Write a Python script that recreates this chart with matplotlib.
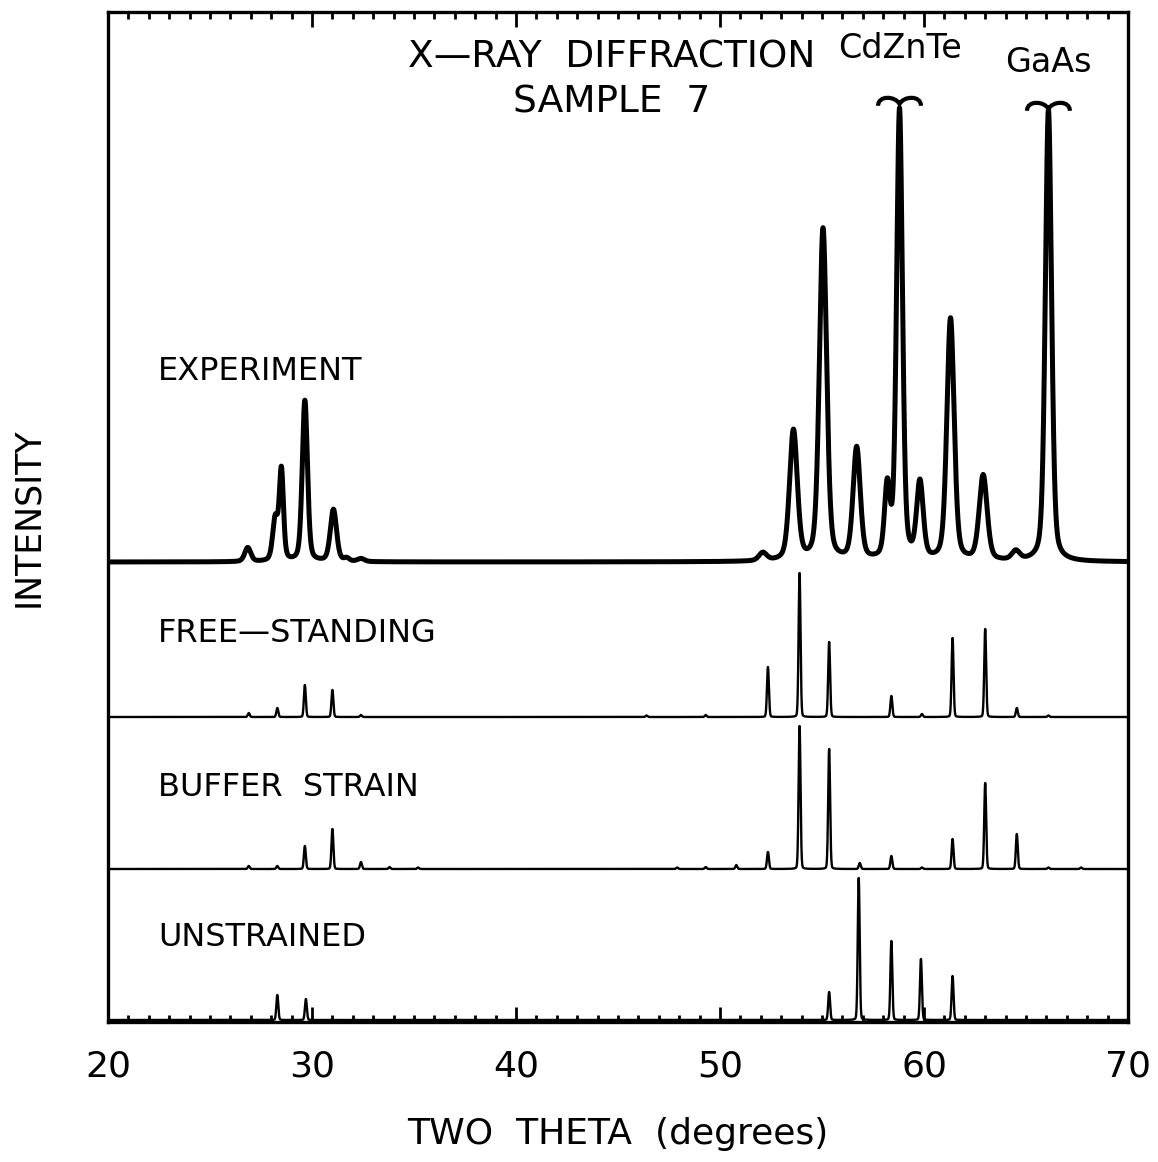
import numpy as np
import matplotlib
matplotlib.use('Agg')
import matplotlib.pyplot as plt
from matplotlib.path import Path
from matplotlib.patches import PathPatch

# Peak tables: position (deg), height (px above baseline)
exp_pos = [26.85, 28.2, 28.5, 29.65, 31.05, 31.7, 32.4, 52.1, 53.6, 55.05, 56.7,
           58.2, 58.8, 59.8, 61.3, 62.9, 64.5, 66.1]
exp_hgt = [14, 42, 90, 161, 52, 3, 3, 8, 130, 332, 112, 70, 450, 76, 242, 85, 9, 452]
exp_fwhm = [0.35, 0.3, 0.24, 0.3, 0.36, 0.3, 0.4, 0.45, 0.45, 0.42, 0.42,
            0.32, 0.34, 0.38, 0.42, 0.46, 0.45, 0.36]

free_pos = [26.9, 28.3, 29.65, 31.0, 32.4, 46.4, 49.3, 52.35, 53.9, 55.35, 58.4,
            59.9, 61.4, 63.0, 64.55, 66.1]
free_hgt = [4, 9, 32, 27, 2, 1.5, 2, 50, 144, 75, 21, 3, 79, 88, 9, 1.5]

buffer_pos = [26.9, 28.3, 29.65, 31.0, 32.4, 33.8, 35.2, 47.9, 49.3, 50.8, 52.35,
              53.9, 55.35, 56.85, 58.4, 59.9, 61.4, 63.0, 64.55, 66.1, 67.7]
buffer_hgt = [3, 3, 23, 40, 7, 2, 1.5, 1.5, 2, 4, 17, 143, 120, 6, 13, 1.5, 30,
              86, 35, 1.5, 1.5]

unstr_pos = [28.3, 29.7, 55.35, 56.8, 58.4, 59.85, 61.4]
unstr_hgt = [25, 21, 28, 142, 79, 61, 44]

offsets = {'EXPERIMENT': 460, 'FREE\u2014STANDING': 305,
           'BUFFER  STRAIN': 153, 'UNSTRAINED': 2}

two_theta = np.linspace(20, 70, 10001)


def pattern(pos, hgt, fwhm, eta=0.3):
    y = np.zeros_like(two_theta)
    for p, h, w in zip(pos, hgt, np.broadcast_to(fwhm, len(pos))):
        g = np.exp(-4 * np.log(2) * ((two_theta - p) / w) ** 2)
        l = 1 / (1 + 4 * ((two_theta - p) / w) ** 2)
        y += h * ((1 - eta) * g + eta * l)
    return y


fig = plt.figure(figsize=(11.58, 11.62), dpi=100)
ax = fig.add_axes([108 / 1158, 1 - 1022 / 1162, 1020 / 1158, 1010 / 1162])

ax.plot(two_theta, offsets['EXPERIMENT'] + pattern(exp_pos, exp_hgt, exp_fwhm, 0.35),
        color='black', lw=3.6, solid_joinstyle='round')
ax.plot(two_theta, offsets['FREE\u2014STANDING'] + pattern(free_pos, free_hgt, 0.11, 0.1),
        color='black', lw=1.7)
ax.plot(two_theta, offsets['BUFFER  STRAIN'] + pattern(buffer_pos, buffer_hgt, 0.11, 0.1),
        color='black', lw=1.7)
ax.plot(two_theta, offsets['UNSTRAINED'] + pattern(unstr_pos, unstr_hgt, 0.11, 0.1),
        color='black', lw=1.7)

label_y = {'EXPERIMENT': 650, 'FREE\u2014STANDING': 389,
           'BUFFER  STRAIN': 234, 'UNSTRAINED': 85}
for name, yy in label_y.items():
    ax.text(22.45, yy, name, fontsize=23, va='center', ha='left')

ax.text(44.7, 942, 'X\u2014RAY  DIFFRACTION\nSAMPLE  7', fontsize=27,
        ha='center', va='center', linespacing=1.35)


def brace(xc, yb, half=1.05, h=9):
    verts = [(xc - half, yb - h * 0.2), (xc - half, yb + h), (xc - 0.2, yb + h * 0.9),
             (xc, yb), (xc + 0.2, yb + h * 0.9), (xc + half, yb + h),
             (xc + half, yb - h * 0.2)]
    codes = [Path.MOVETO, Path.CURVE4, Path.CURVE4, Path.CURVE4,
             Path.CURVE4, Path.CURVE4, Path.CURVE4]
    ax.add_patch(PathPatch(Path(verts, codes), fill=False, lw=3, color='black'))


brace(58.8, 918)
ax.text(58.8, 974, 'CdZnTe', fontsize=24, ha='center', va='center')
brace(66.1, 913)
ax.text(66.1, 960, 'GaAs', fontsize=24, ha='center', va='center')

ax.set_xlim(20, 70)
ax.set_ylim(0, 1010)
ax.set_xticks(np.arange(20, 71, 10))
ax.set_xticks(np.arange(20, 71, 1), minor=True)
ax.tick_params(axis='x', which='both', direction='in', top=True, width=2,
               labelsize=26, pad=20)
ax.tick_params(axis='x', which='major', length=11)
ax.tick_params(axis='x', which='minor', length=5)
ax.set_yticks([offsets['EXPERIMENT']])
ax.set_yticklabels([])
ax.tick_params(axis='y', direction='in', length=7, width=1.5)
for s in ax.spines.values():
    s.set_linewidth(2.4)

ax.set_xlabel('TWO  THETA  (degrees)', fontsize=26, labelpad=24)
ax.set_ylabel('INTENSITY', fontsize=25, labelpad=42)

fig.savefig('out.png', dpi=100)
